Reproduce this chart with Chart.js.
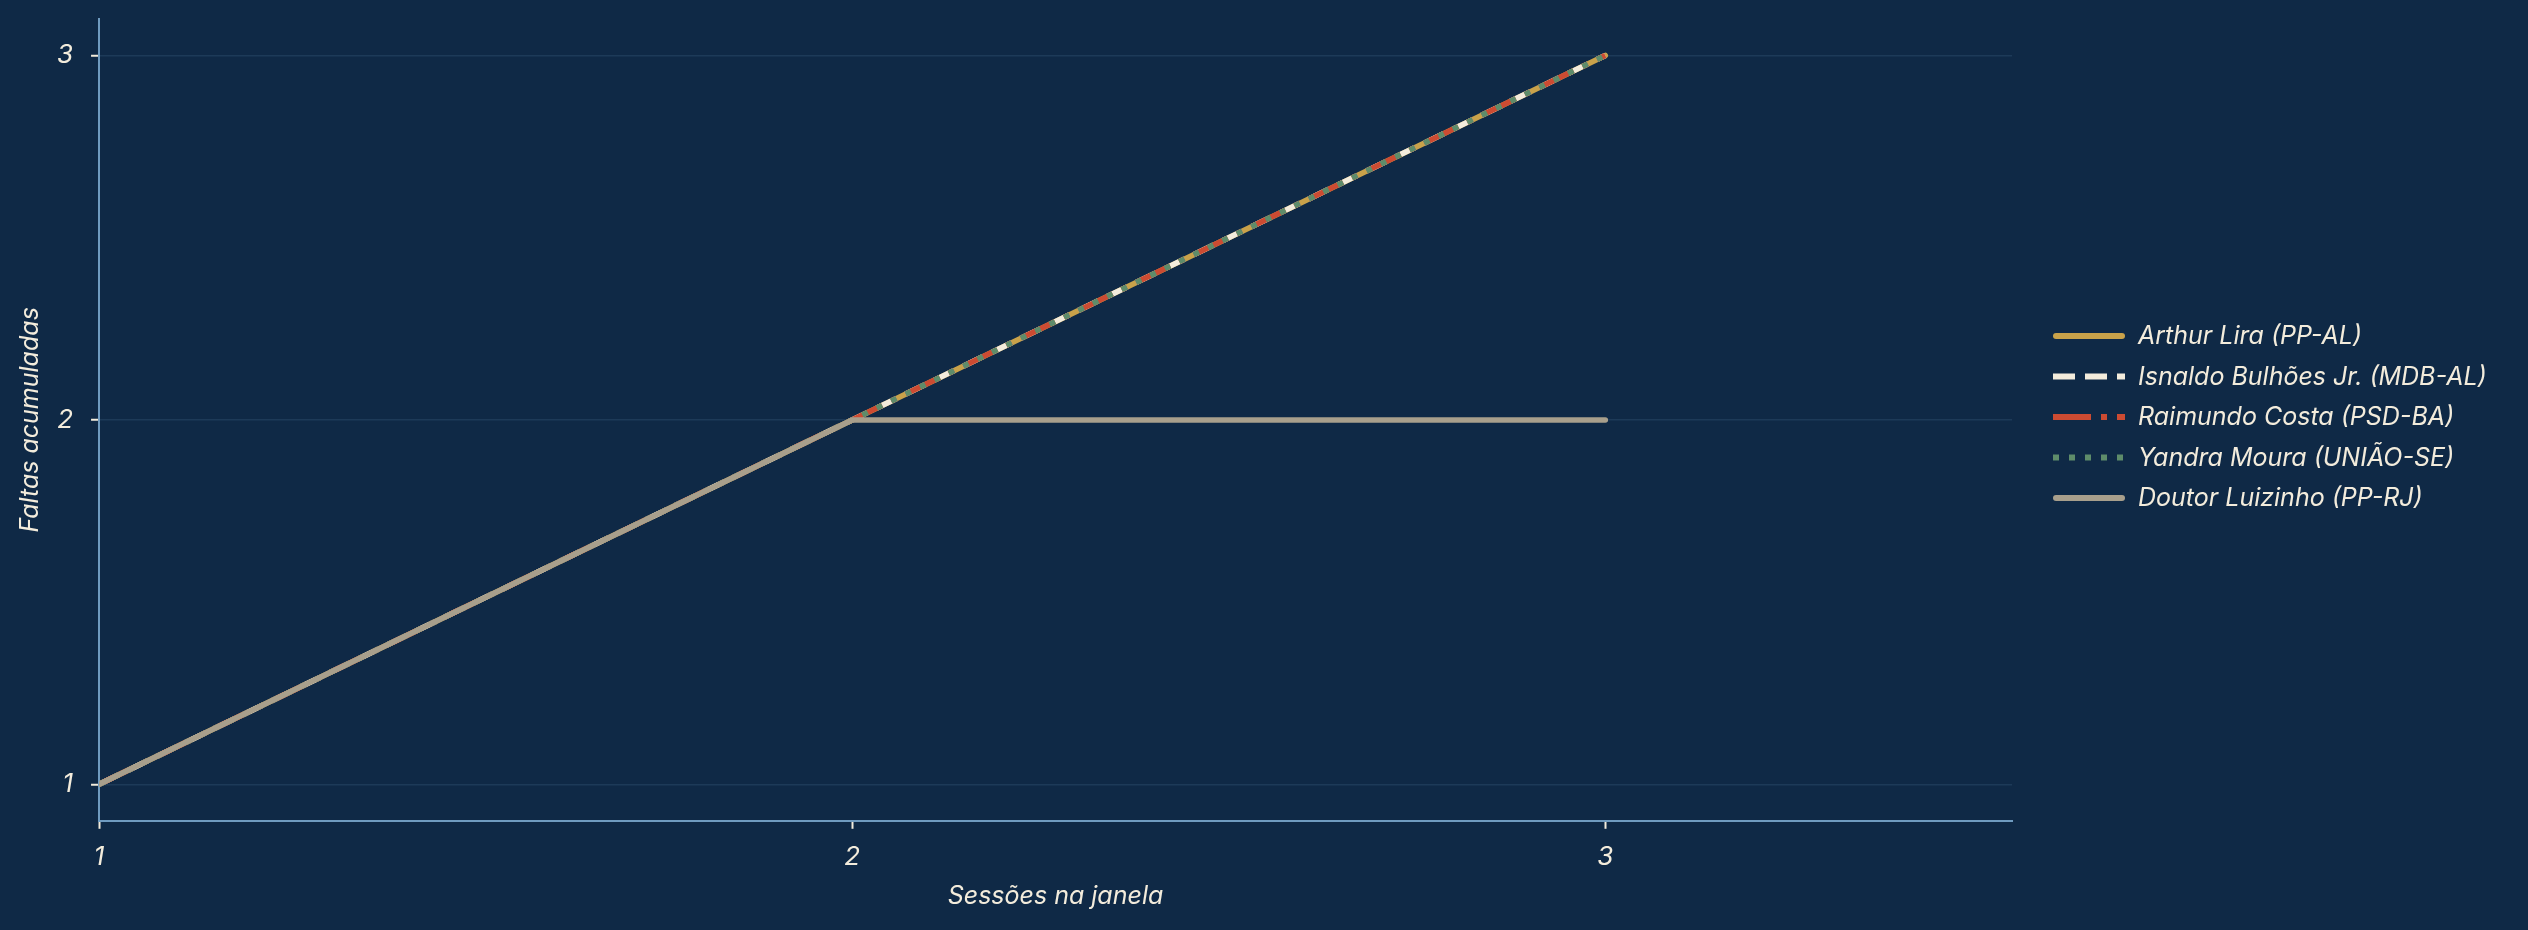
<!DOCTYPE html>
<html>
<head>
<meta charset="utf-8">
<script src="https://cdn.jsdelivr.net/npm/chart.js@4.4.1/dist/chart.umd.min.js"></script>
<style>
  html, body { margin: 0; padding: 0; background: #0f2946; }
  #wrap { width: 2528px; height: 930px; }
</style>
</head>
<body>
<div id="wrap"><canvas id="chart" width="2528" height="930"></canvas></div>
<script>
// sessions in the window
const sessions = [1, 2, 3];
const xTicks = [1, 2, 3];
const yTicks = [1, 2, 3];

const names = [
    'Arthur Lira (PP-AL)',
    'Isnaldo Bulhões Jr. (MDB-AL)',
    'Raimundo Costa (PSD-BA)',
    'Yandra Moura (UNIÃO-SE)',
    'Doutor Luizinho (PP-RJ)'
];
const arthurLira = [1, 2, 3];
const isnaldoBulhoes = [1, 2, 3];
const raimundoCosta = [1, 2, 3];
const yandraMoura = [1, 2, 3];
const doutorLuizinho = [1, 2, 2];

const cream = '#f3ecdc';
const axisBlue = '#6f9bc0';
const fontFamily = 'Inter, "Noto Sans", sans-serif';

const toPoints = (vals) => vals.map((v, i) => ({ x: sessions[i], y: v }));

// last one is drawn on top
const styles = [
    { color: '#c9a24a', dash: [], cap: 'round', order: 5 },
    { color: cream, dash: [22, 10], cap: 'butt', order: 4 },
    { color: '#cc4b32', dash: [38, 10, 6, 10], cap: 'butt', order: 3 },
    { color: '#5e8c6a', dash: [6, 10], cap: 'butt', order: 2 },
    { color: '#a89f8c', dash: [], cap: 'round', order: 1 }
];
const series = [arthurLira, isnaldoBulhoes, raimundoCosta, yandraMoura, doutorLuizinho];

const datasets = series.map((vals, i) => ({
    label: names[i],
    data: toPoints(vals),
    borderColor: styles[i].color,
    backgroundColor: styles[i].color,
    borderWidth: 5.5,
    borderDash: styles[i].dash,
    borderCapStyle: styles[i].cap,
    borderJoinStyle: 'round',
    pointRadius: 0,
    tension: 0,
    order: styles[i].order
}));

const bgPlugin = {
    id: 'bg',
    beforeDraw: (chart) => {
        const ctx = chart.ctx;
        ctx.save();
        ctx.fillStyle = '#0f2946';
        ctx.fillRect(0, 0, chart.width, chart.height);
        ctx.restore();
    }
};

// legend on the right, keeps the dash pattern of each line
const sideLegend = {
    id: 'sideLegend',
    afterDraw: (chart) => {
        const ctx = chart.ctx;
        const area = chart.chartArea;
        const x0 = area.right + 41;
        const rowH = 40.5;
        const ds = chart.data.datasets;
        const yStart = (area.top + area.bottom) / 2 - rowH * (ds.length - 1) / 2 - 3;
        ctx.save();
        ctx.font = 'italic 25px ' + fontFamily;
        ctx.textBaseline = 'middle';
        ds.forEach((d, i) => {
            const y = yStart + i * rowH;
            ctx.strokeStyle = d.borderColor;
            ctx.lineWidth = 6;
            ctx.lineCap = d.borderCapStyle;
            ctx.setLineDash(d.borderDash);
            ctx.beginPath();
            if (d.borderCapStyle === 'round') {
                ctx.moveTo(x0 + 3, y);
                ctx.lineTo(x0 + 69, y);
            } else {
                ctx.moveTo(x0, y);
                ctx.lineTo(x0 + 72, y);
            }
            ctx.stroke();
            ctx.setLineDash([]);
            ctx.fillStyle = cream;
            ctx.fillText(d.label, x0 + 85, y + 1);
        });
        ctx.restore();
    }
};

new Chart(document.getElementById('chart'), {
    type: 'line',
    data: { datasets },
    plugins: [bgPlugin, sideLegend],
    options: {
        responsive: false,
        animation: false,
        layout: { padding: { left: 9, top: 19, right: 516, bottom: 14 } },
        plugins: {
            tooltip: { enabled: false },
            legend: { display: false }
        },
        scales: {
            x: {
                type: 'linear',
                min: 1,
                max: 3.54,
                afterBuildTicks: (axis) => { axis.ticks = xTicks.map(v => ({ value: v })); },
                ticks: {
                    color: cream,
                    padding: 13,
                    font: { family: fontFamily, size: 26, style: 'italic' },
                    callback: (v) => String(v)
                },
                grid: { drawOnChartArea: false, tickColor: cream, tickLength: 8, tickWidth: 2 },
                border: { color: axisBlue, width: 2 },
                title: {
                    display: true,
                    text: 'Sessões na janela',
                    color: cream,
                    font: { family: fontFamily, size: 25, style: 'italic' },
                    padding: { top: -5, bottom: 5 }
                }
            },
            y: {
                type: 'linear',
                min: 0.9,
                max: 3.1,
                afterBuildTicks: (axis) => { axis.ticks = yTicks.map(v => ({ value: v })); },
                afterFit: (axis) => { axis.paddingTop = 0; axis.paddingBottom = 0; },
                ticks: {
                    color: cream,
                    padding: 18,
                    font: { family: fontFamily, size: 26, style: 'italic' },
                    callback: (v) => String(v)
                },
                grid: { color: 'rgba(120,160,200,0.14)', lineWidth: 1.5, tickColor: cream, tickLength: 8, tickWidth: 2 },
                border: { color: axisBlue, width: 2 },
                title: {
                    display: true,
                    text: 'Faltas acumuladas',
                    color: cream,
                    font: { family: fontFamily, size: 25, style: 'italic' },
                    padding: { top: 6, bottom: -6 }
                }
            }
        }
    }
});
</script>
</body>
</html>
